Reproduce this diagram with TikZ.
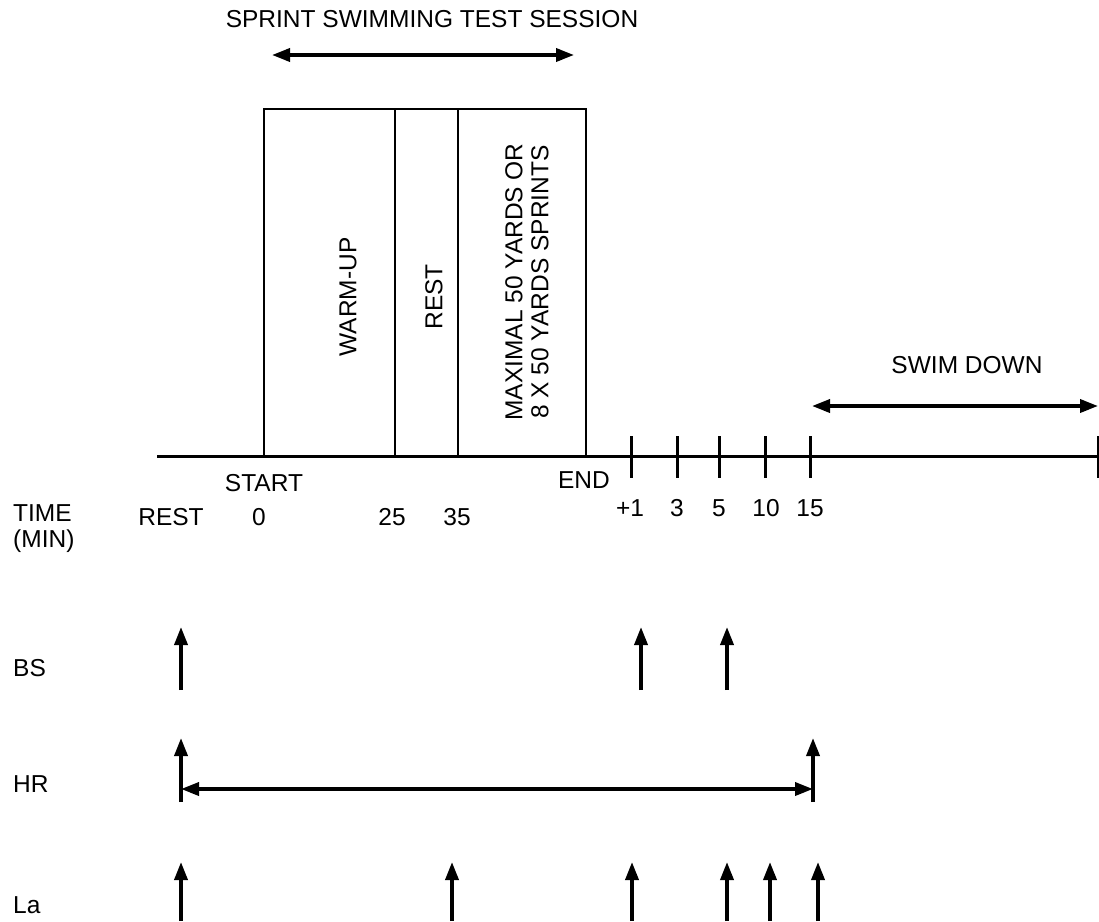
\documentclass[tikz,border=0pt]{standalone}
\usepackage{fontspec}
\setmainfont{Liberation Sans}
\usetikzlibrary{arrows.meta, positioning}

\begin{document}
\begin{tikzpicture}[
    x=1pt, y=-1pt,
    every node/.style={font=\fontsize{24.5}{26}\selectfont, inner sep=0pt},
    phase/.style={rotate=90, align=center},
    rowlabel/.style={anchor=west},
    boxline/.style={line width=2.6pt},
    axisline/.style={line width=3pt},
    marker/.style={-{Triangle[length=18pt, width=13pt]}, line width=3.6pt},
    span/.style={{Triangle[length=18pt, width=13pt]}-{Triangle[length=18pt, width=13pt]}, line width=3.6pt}
]

\useasboundingbox (0,0) rectangle (1099,921);

% ── TEST SESSION ───────────────────────────────────────────────
\node (title) at (432,19) {SPRINT SWIMMING TEST SESSION};
\coordinate (sessL) at (272,55);
\coordinate (sessR) at (574,55);
\draw[span] (sessL) -- (sessR);

% ── PHASE BOXES ────────────────────────────────────────────────
\coordinate (start) at (264,456);
\coordinate (end)   at (586,456);
\draw[boxline] (start) -- (264,109) -- (586,109) -- (end);
\draw[boxline] (395,109) -- (395,456);
\draw[boxline] (458,109) -- (458,456);

\node[phase] (warmup) at (348,297) {WARM-UP};
\node[phase] (rest)   at (434,297) {REST};
\node[phase] (sprint) at (527,282)
    {MAXIMAL 50 YARDS OR\\8 X 50 YARDS SPRINTS};

% ── TIME AXIS ──────────────────────────────────────────────────
\coordinate (axL) at (157,456);
\coordinate (axR) at (1098,456);
\draw[axisline] (axL) -- (axR);
\foreach \t in {631,677,719,765,810,1098}
    \draw[axisline] (\t,436) -- (\t,478);

\node (lstart) at (264,483) {START};
\node (lend)   at (584,480) {END};

\node[rowlabel, align=left] (time) at (13,529) {TIME\\(MIN)};
\node (trest) at (171,517) {REST};
\node (t0)  at (259,517) {0};
\node (t25) at (392,517) {25};
\node (t35) at (457,517) {35};

\foreach \t/\lab in {630/+1, 677/3, 719/5, 766/10, 810/15}
    \node at (\t,508) {\lab};

% ── SWIM DOWN ──────────────────────────────────────────────────
\node (swim) at (967,365) {SWIM DOWN};
\coordinate (swimL) at (812,406);
\coordinate (swimR) at (1098,406);
\draw[span] (swimL) -- (swimR);

% ── SAMPLING ROWS ──────────────────────────────────────────────
\node[rowlabel] (bs) at (13,668) {BS};
\node[rowlabel] (hr) at (13,784) {HR};
\node[rowlabel] (la) at (13,905) {La};

% BS
\foreach \t in {181,641,727}
    \draw[marker] (\t,690) -- (\t,627);

% HR
\foreach \t in {181,813}
    \draw[marker] (\t,802) -- (\t,738);
\coordinate (hrL) at (181,789);
\coordinate (hrR) at (813,789);
\draw[span] (hrL) -- (hrR);

% La
\foreach \t in {181,452,632,727,770,818}
    \draw[marker] (\t,921) -- (\t,862);

\end{tikzpicture}
\end{document}
